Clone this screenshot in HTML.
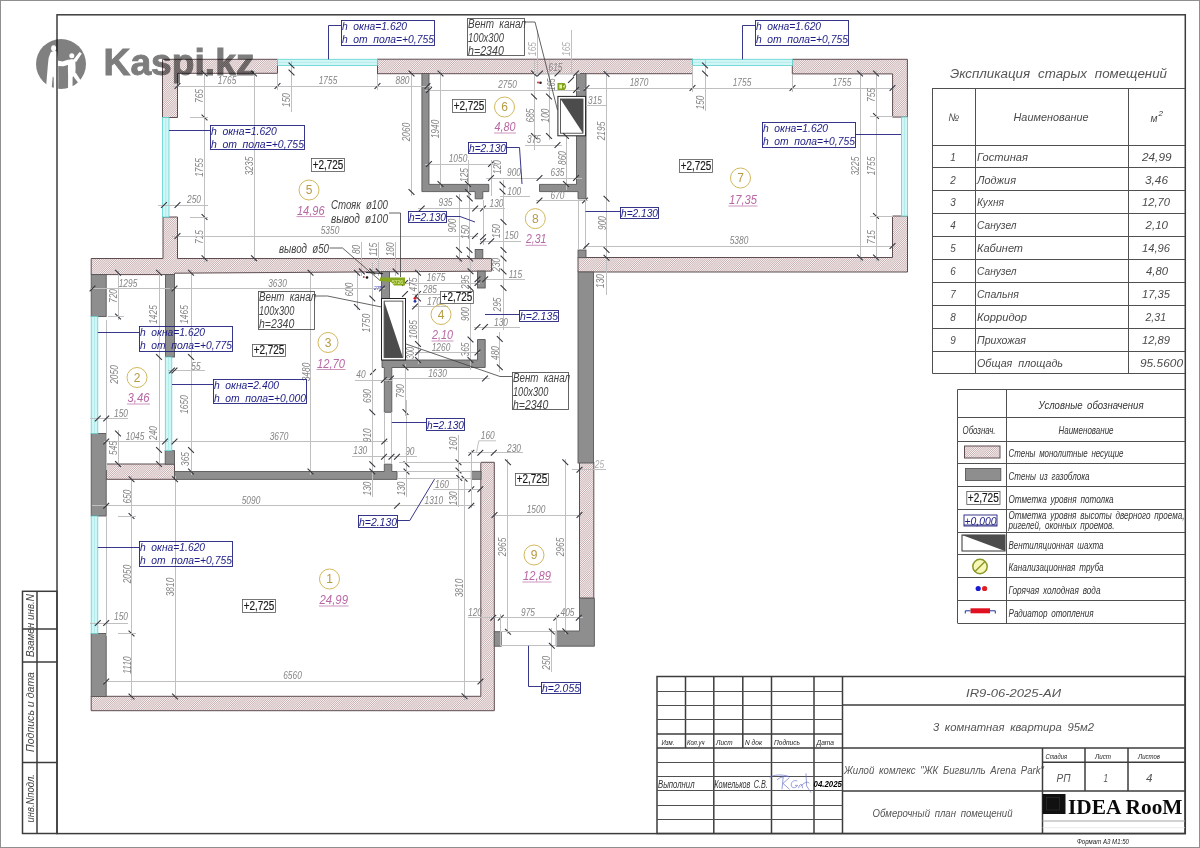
<!DOCTYPE html>
<html lang="ru"><head><meta charset="utf-8"><title>Обмерочный план помещений</title>
<style>
html,body{margin:0;padding:0;background:#fff;}
body{width:1200px;height:848px;overflow:hidden;font-family:'Liberation Sans', sans-serif;}
svg{display:block;position:absolute;left:0;top:0;}
text{font-family:'Liberation Sans', sans-serif;}
.mono{fill:url(#hatch);stroke:#5e4c50;stroke-width:1;}
.gz{fill:#8e8e8e;stroke:#585858;stroke-width:0.9;}
.win{fill:#d2f6f5;stroke:#5ad3d0;stroke-width:0.8;}
.winl{stroke:#9ce6e4;stroke-width:0.6;}
.dl{stroke:#c0c0c0;stroke-width:1;shape-rendering:crispEdges;}
.tk{stroke:#34343e;stroke-width:1.1;}
.dt{font-size:10.2px;font-style:italic;fill:#858585;}
.bb{fill:none;stroke:#20207e;stroke-width:0.9;}
.bl{fill:none;stroke:#20207e;stroke-width:0.9;}
.bt{font-size:11.5px;font-style:italic;fill:#1c1c86;word-spacing:3px;}
.vb{fill:none;stroke:#555;stroke-width:0.9;}
.vl{fill:none;stroke:#3c3c3c;stroke-width:0.8;}
.vt{font-size:12px;font-style:italic;fill:#444;word-spacing:3px;}
.rc{fill:none;stroke:#d0b455;stroke-width:0.95;}
.rn{font-size:12px;fill:#b79a44;}
.ra{font-size:12px;font-style:italic;fill:#b868a4;}
.rau{stroke:#b868a4;stroke-width:0.7;}
.lvb{fill:#fff;stroke:#555;stroke-width:0.8;}
.lvt{font-size:12.5px;fill:#1a1a1a;stroke:#1a1a1a;stroke-width:0.2;}
.fr{fill:none;stroke:#3c3c3c;stroke-width:1.5;}
.frl{stroke:#3c3c3c;stroke-width:1.5;}
.tb{stroke:#505050;stroke-width:1;}
.tbt{stroke:#555;stroke-width:0.8;}
.tt{font-size:11px;font-style:italic;fill:#4a4a4a;word-spacing:3px;}
.tts{font-size:8px;font-style:italic;fill:#333;}
.lab{font-size:10.5px;font-style:italic;fill:#333;word-spacing:2px;}
.ttl{font-size:12.5px;font-style:italic;fill:#555;word-spacing:4px;}
.tts2{font-size:7.5px;font-style:italic;fill:#222;}
.date{font-size:9.5px;font-style:italic;font-weight:bold;fill:#000;}
.big{font-size:11.5px;font-style:italic;fill:#555;word-spacing:2.5px;}
.fmt{font-size:7px;font-style:italic;fill:#222;}
.dt2{font-size:10.2px;font-style:italic;fill:#aeaeae;}
.bt2{font-size:6px;font-style:italic;fill:#3a3ab0;}
.stamp{font-size:10.5px;font-style:italic;fill:#444;}
</style></head>
<body>
<svg width="1200" height="848" viewBox="0 0 1200 848">
<defs>
<pattern id="hatch" width="1.5" height="1.5" patternUnits="userSpaceOnUse" patternTransform="rotate(-45)">
<rect width="1.5" height="1.5" fill="#fcf5f5"/>
<rect width="1.5" height="0.5" fill="#a98a8c"/>
</pattern>
</defs>
<rect x="0" y="0" width="1200" height="848" fill="#fff"/>
<rect x="0.5" y="0.5" width="1199" height="847" fill="none" stroke="#8f8f8f" stroke-width="1"/>
<rect x="57" y="14.8" width="1128.30" height="818.80" class="fr"/>
<rect x="22.5" y="591.3" width="34.50" height="242.20" class="fr"/>
<line x1="37" y1="591" x2="37" y2="833.5" class="frl"/>
<line x1="22.5" y1="662" x2="57" y2="662" class="frl"/>
<line x1="22.5" y1="762.5" x2="57" y2="762.5" class="frl"/>
<line x1="22.5" y1="629" x2="57" y2="629" class="frl"/>
<polygon points="162.5,59.3 277.5,59.3 277.5,73.3 177.5,73.3 177.5,117.5 162.5,117.5" class="mono"/>
<rect x="377.5" y="59.2" width="315.00" height="14.50" class="mono"/>
<polygon points="792.3,59.3 907.4,59.3 907.4,117.1 892.6,117.1 892.6,73.9 792.3,73.9" class="mono"/>
<polygon points="892.5,216 907.5,216 907.5,272 578,272 578,257.5 892.5,257.5" class="mono"/>
<polygon points="163,217 177.5,217 177.5,258.5 491.6,258.6 491.6,271.1 174.5,273.2 174.5,274.6 91.2,274.6 91.2,258.5 163,258.5" class="mono"/>
<rect x="106.2" y="464" width="68.30" height="15.30" class="mono"/>
<polygon points="91.2,696.3 480.8,696.3 480.8,462.3 494.3,462.3 494.3,710.7 91.2,710.7" class="mono"/>
<rect x="579.5" y="462.5" width="14.30" height="135.70" class="mono"/>
<rect x="91.2" y="274.6" width="15.00" height="41.90" class="gz"/>
<rect x="165.5" y="274.6" width="9.00" height="82.40" class="gz"/>
<rect x="91.2" y="433.5" width="15.00" height="82.50" class="gz"/>
<rect x="165.2" y="450.7" width="9.30" height="13.50" class="gz"/>
<polygon points="174.5,471.5 384.3,471.5 384.3,464.2 391.8,464.2 391.8,471.5 397,471.5 397,479.4 174.5,479.4" class="gz"/>
<rect x="91.2" y="633.5" width="15.00" height="63.00" class="gz"/>
<polygon points="421.9,73.5 429,73.5 429,184.4 488.8,184.4 488.8,191.6 482.8,191.6 482.8,198.8 475.2,198.8 475.2,191.6 421.9,191.6" class="gz"/>
<polygon points="576.5,73.5 586,73.5 586,198.8 578,198.8 578,191.6 539.5,191.6 539.5,184.4 576.5,184.4" class="gz"/>
<rect x="475.2" y="249.5" width="7.60" height="9.10" class="gz"/>
<rect x="477.5" y="271.1" width="7.70" height="16.90" class="gz"/>
<rect x="578" y="250" width="8.00" height="7.70" class="gz"/>
<rect x="578" y="272" width="15.50" height="191.00" class="gz"/>
<rect x="381.5" y="271.6" width="8.00" height="26.90" class="gz"/>
<polygon points="382,360 477.5,360 477.5,339.5 485.2,339.5 485.2,367.5 391.8,367.5 391.8,412.3 384.3,412.3 384.3,367.5 382,367.5" class="gz"/>
<rect x="494.3" y="631.7" width="6.90" height="14.50" class="gz"/>
<polygon points="579.5,598.2 594.4,598.2 594.4,646.2 556.2,646.2 556.2,631 579.5,631" class="gz"/>
<rect x="471.3" y="471.3" width="9.70" height="8.00" class="gz"/>
<rect x="277.5" y="59.3" width="100.00" height="6.20" class="win"/>
<line x1="277.5" y1="62.4" x2="377.5" y2="62.4" class="winl"/>
<rect x="692.5" y="59.3" width="100.00" height="6.20" class="win"/>
<line x1="692.5" y1="62.4" x2="792.5" y2="62.4" class="winl"/>
<rect x="162.5" y="117.5" width="6.50" height="99.50" class="win"/>
<line x1="165.75" y1="117.5" x2="165.75" y2="217" class="winl"/>
<rect x="901.5" y="117.1" width="5.90" height="98.90" class="win"/>
<line x1="904.45" y1="117.1" x2="904.45" y2="216" class="winl"/>
<rect x="91.2" y="316.5" width="6.60" height="117.00" class="win"/>
<line x1="94.5" y1="316.5" x2="94.5" y2="433.5" class="winl"/>
<rect x="165.3" y="357" width="6.50" height="93.70" class="win"/>
<line x1="168.55" y1="357" x2="168.55" y2="450.7" class="winl"/>
<rect x="91.2" y="516" width="6.60" height="117.50" class="win"/>
<line x1="94.5" y1="516" x2="94.5" y2="633.5" class="winl"/>
<rect x="557.9" y="96.4" width="27.70" height="39.40" fill="#fff" stroke="#222" stroke-width="1"/>
<rect x="560.5" y="99.0" width="22.50" height="34.20" fill="#fff" stroke="#333" stroke-width="0.8"/>
<polygon points="560.5,99.0 583.0,99.0 583.0,133.20000000000002" fill="#4c4c4c"/>
<rect x="381.5" y="298.5" width="24.00" height="61.50" fill="#fff" stroke="#222" stroke-width="1"/>
<rect x="384.1" y="301.1" width="18.80" height="56.30" fill="#fff" stroke="#333" stroke-width="0.8"/>
<polygon points="384.1,301.1 384.1,357.4 402.9,357.4" fill="#4c4c4c"/>
<line x1="172" y1="86" x2="432" y2="86" class="dl"/>
<line x1="174.6" y1="88.9" x2="180.4" y2="83.1" class="tk"/>
<line x1="274.6" y1="88.9" x2="280.4" y2="83.1" class="tk"/>
<line x1="374.6" y1="88.9" x2="380.4" y2="83.1" class="tk"/>
<line x1="424.6" y1="88.9" x2="430.4" y2="83.1" class="tk"/>
<line x1="277.5" y1="73.5" x2="277.5" y2="90" class="dl"/>
<line x1="377.5" y1="73.5" x2="377.5" y2="90" class="dl"/>
<text class="dt" text-anchor="middle" transform="translate(227,84.39999999999999) scale(0.82,1)">1765</text>
<text class="dt" text-anchor="middle" transform="translate(328,84.39999999999999) scale(0.82,1)">1755</text>
<text class="dt" text-anchor="middle" transform="translate(402.5,84.39999999999999) scale(0.82,1)">880</text>
<line x1="204.5" y1="70" x2="204.5" y2="262" class="dl"/>
<line x1="201.6" y1="70.6" x2="207.4" y2="76.4" class="tk"/>
<line x1="201.6" y1="114.6" x2="207.4" y2="120.4" class="tk"/>
<line x1="201.6" y1="214.1" x2="207.4" y2="219.9" class="tk"/>
<line x1="201.6" y1="255.29999999999998" x2="207.4" y2="261.09999999999997" class="tk"/>
<line x1="190" y1="117.5" x2="208" y2="117.5" class="dl"/>
<line x1="190" y1="217" x2="208" y2="217" class="dl"/>
<text class="dt" text-anchor="middle" transform="translate(202.7,96) rotate(-90) scale(0.82,1)">765</text>
<text class="dt" text-anchor="middle" transform="translate(202.7,167.5) rotate(-90) scale(0.82,1)">1755</text>
<text class="dt" text-anchor="middle" transform="translate(202.7,237) rotate(-90) scale(0.82,1)">715</text>
<line x1="254" y1="70" x2="254" y2="262" class="dl"/>
<line x1="251.1" y1="70.6" x2="256.9" y2="76.4" class="tk"/>
<line x1="251.1" y1="255.29999999999998" x2="256.9" y2="261.09999999999997" class="tk"/>
<text class="dt" text-anchor="middle" transform="translate(252.7,166) rotate(-90) scale(0.82,1)">3235</text>
<line x1="158" y1="205" x2="208" y2="205" class="dl"/>
<line x1="161.1" y1="207.9" x2="166.9" y2="202.1" class="tk"/>
<line x1="174.6" y1="207.9" x2="180.4" y2="202.1" class="tk"/>
<text class="dt" text-anchor="middle" transform="translate(194,202.6) scale(0.82,1)">250</text>
<line x1="291.5" y1="61" x2="291.5" y2="112" class="dl"/>
<line x1="288.6" y1="62.6" x2="294.4" y2="68.4" class="tk"/>
<line x1="288.6" y1="69.6" x2="294.4" y2="75.4" class="tk"/>
<text class="dt" text-anchor="middle" transform="translate(290.2,100) rotate(-90) scale(0.82,1)">150</text>
<line x1="411.5" y1="70" x2="411.5" y2="196" class="dl"/>
<line x1="408.6" y1="70.6" x2="414.4" y2="76.4" class="tk"/>
<line x1="408.6" y1="189.1" x2="414.4" y2="194.9" class="tk"/>
<text class="dt" text-anchor="middle" transform="translate(409.7,132) rotate(-90) scale(0.82,1)">2060</text>
<line x1="172" y1="236" x2="478" y2="236" class="dl"/>
<line x1="174.6" y1="238.9" x2="180.4" y2="233.1" class="tk"/>
<line x1="472.1" y1="238.9" x2="477.9" y2="233.1" class="tk"/>
<text class="dt" text-anchor="middle" transform="translate(330,234.1) scale(0.82,1)">5350</text>
<line x1="361.9" y1="242" x2="361.9" y2="276" class="dl"/>
<line x1="359.0" y1="268.5" x2="364.79999999999995" y2="274.29999999999995" class="tk"/>
<line x1="378.7" y1="242" x2="378.7" y2="276" class="dl"/>
<line x1="375.8" y1="268.5" x2="381.59999999999997" y2="274.29999999999995" class="tk"/>
<line x1="395.6" y1="242" x2="395.6" y2="276" class="dl"/>
<line x1="392.70000000000005" y1="268.5" x2="398.5" y2="274.29999999999995" class="tk"/>
<text class="dt" text-anchor="middle" transform="translate(359.9,249.4) rotate(-90) scale(0.82,1)">80</text>
<text class="dt" text-anchor="middle" transform="translate(376.59999999999997,249.4) rotate(-90) scale(0.82,1)">115</text>
<text class="dt" text-anchor="middle" transform="translate(394.2,249.4) rotate(-90) scale(0.82,1)">180</text>
<line x1="440.5" y1="70" x2="440.5" y2="188" class="dl"/>
<line x1="437.6" y1="70.6" x2="443.4" y2="76.4" class="tk"/>
<line x1="437.6" y1="181.1" x2="443.4" y2="186.9" class="tk"/>
<text class="dt" text-anchor="middle" transform="translate(438.7,129) rotate(-90) scale(0.82,1)">1940</text>
<line x1="425" y1="90" x2="580" y2="90" class="dl"/>
<line x1="426.1" y1="92.9" x2="431.9" y2="87.1" class="tk"/>
<line x1="573.1" y1="92.9" x2="578.9" y2="87.1" class="tk"/>
<text class="dt" text-anchor="middle" transform="translate(507.5,88.1) scale(0.82,1)">2750</text>
<line x1="425" y1="164" x2="495" y2="164" class="dl"/>
<line x1="426.1" y1="166.9" x2="431.9" y2="161.1" class="tk"/>
<line x1="488.1" y1="166.9" x2="493.9" y2="161.1" class="tk"/>
<text class="dt" text-anchor="middle" transform="translate(458,161.6) scale(0.82,1)">1050</text>
<line x1="468" y1="160" x2="468" y2="196" class="dl"/>
<line x1="465.1" y1="181.1" x2="470.9" y2="186.9" class="tk"/>
<line x1="465.1" y1="189.1" x2="470.9" y2="194.9" class="tk"/>
<text class="dt" text-anchor="middle" transform="translate(467.7,175) rotate(-90) scale(0.82,1)">125</text>
<line x1="491" y1="160" x2="491" y2="196" class="dl"/>
<text class="dt" text-anchor="middle" transform="translate(501.2,167) rotate(-90) scale(0.82,1)">120</text>
<line x1="486" y1="178" x2="582" y2="178" class="dl"/>
<line x1="488.1" y1="180.9" x2="493.9" y2="175.1" class="tk"/>
<line x1="536.6" y1="180.9" x2="542.4" y2="175.1" class="tk"/>
<line x1="573.1" y1="180.9" x2="578.9" y2="175.1" class="tk"/>
<text class="dt" text-anchor="middle" transform="translate(514,175.6) scale(0.82,1)">900</text>
<text class="dt" text-anchor="middle" transform="translate(557.5,175.6) scale(0.82,1)">635</text>
<line x1="500" y1="196.7" x2="530" y2="196.7" class="dl"/>
<text class="dt" text-anchor="middle" transform="translate(514.3,194.9) scale(0.82,1)">100</text>
<line x1="534" y1="60" x2="534" y2="150" class="dl"/>
<line x1="531.1" y1="70.6" x2="536.9" y2="76.4" class="tk"/>
<line x1="531.1" y1="93.6" x2="536.9" y2="99.4" class="tk"/>
<line x1="531.1" y1="133.1" x2="536.9" y2="138.9" class="tk"/>
<text class="dt" text-anchor="middle" transform="translate(534.2,115.5) rotate(-90) scale(0.82,1)">685</text>
<line x1="549" y1="60" x2="549" y2="140" class="dl"/>
<line x1="546.1" y1="93.6" x2="551.9" y2="99.4" class="tk"/>
<line x1="546.1" y1="133.1" x2="551.9" y2="138.9" class="tk"/>
<text class="dt" text-anchor="middle" transform="translate(549.2,115.5) rotate(-90) scale(0.82,1)">100</text>
<text class="dt" text-anchor="middle" transform="translate(534,143.1) scale(0.82,1)">375</text>
<line x1="525" y1="145" x2="562" y2="145" class="dl"/>
<line x1="554.6" y1="147.9" x2="560.4" y2="142.1" class="tk"/>
<line x1="566" y1="136" x2="566" y2="190" class="dl"/>
<line x1="563.1" y1="133.1" x2="568.9" y2="138.9" class="tk"/>
<line x1="563.1" y1="181.1" x2="568.9" y2="186.9" class="tk"/>
<text class="dt" text-anchor="middle" transform="translate(566.2,158) rotate(-90) scale(0.82,1)">860</text>
<text class="dt2" text-anchor="middle" transform="translate(535.7,49) rotate(-90) scale(0.82,1)">165</text>
<text class="dt2" text-anchor="middle" transform="translate(569.7,49) rotate(-90) scale(0.82,1)">165</text>
<line x1="537" y1="30" x2="537" y2="74" class="dl"/>
<line x1="571" y1="30" x2="571" y2="74" class="dl"/>
<line x1="534" y1="73.5" x2="580" y2="73.5" class="dl"/>
<line x1="537.1" y1="76.4" x2="542.9" y2="70.6" class="tk"/>
<line x1="554.6" y1="76.4" x2="560.4" y2="70.6" class="tk"/>
<line x1="573.1" y1="76.4" x2="578.9" y2="70.6" class="tk"/>
<line x1="568.1" y1="82.9" x2="573.9" y2="77.1" class="tk"/>
<text class="dt" text-anchor="middle" transform="translate(555.5,71.1) scale(0.82,1)">615</text>
<text class="dt" text-anchor="middle" transform="translate(554.7,84.5) rotate(-90) scale(0.7,1)">165</text>
<text class="dt" text-anchor="middle" transform="translate(595,104.1) scale(0.82,1)">315</text>
<line x1="586" y1="105" x2="606.5" y2="105" class="dl"/>
<line x1="418" y1="208.5" x2="505" y2="208.5" class="dl"/>
<line x1="418.8" y1="211.4" x2="424.59999999999997" y2="205.6" class="tk"/>
<line x1="472.3" y1="211.4" x2="478.09999999999997" y2="205.6" class="tk"/>
<line x1="480.1" y1="211.4" x2="485.9" y2="205.6" class="tk"/>
<text class="dt" text-anchor="middle" transform="translate(445.5,206.4) scale(0.82,1)">935</text>
<text class="dt" text-anchor="middle" transform="translate(496.5,206.9) scale(0.82,1)">130</text>
<line x1="536" y1="200.5" x2="588" y2="200.5" class="dl"/>
<line x1="536.6" y1="203.4" x2="542.4" y2="197.6" class="tk"/>
<line x1="582.1" y1="203.4" x2="587.9" y2="197.6" class="tk"/>
<text class="dt" text-anchor="middle" transform="translate(557.5,199.1) scale(0.82,1)">670</text>
<line x1="606.5" y1="70" x2="606.5" y2="295" class="dl"/>
<line x1="578.4" y1="199" x2="578.4" y2="250" class="dl"/>
<line x1="585.8" y1="199" x2="585.8" y2="250" class="dl"/>
<line x1="603.6" y1="71.1" x2="609.4" y2="76.9" class="tk"/>
<line x1="603.6" y1="195.9" x2="609.4" y2="201.70000000000002" class="tk"/>
<line x1="603.6" y1="247.1" x2="609.4" y2="252.9" class="tk"/>
<line x1="603.6" y1="254.79999999999998" x2="609.4" y2="260.59999999999997" class="tk"/>
<text class="dt" text-anchor="middle" transform="translate(604.7,131) rotate(-90) scale(0.82,1)">2195</text>
<text class="dt" text-anchor="middle" transform="translate(605.7,223) rotate(-90) scale(0.82,1)">900</text>
<line x1="459" y1="194" x2="459" y2="262" class="dl"/>
<line x1="456.1" y1="195.6" x2="461.9" y2="201.4" class="tk"/>
<line x1="456.1" y1="247.1" x2="461.9" y2="252.9" class="tk"/>
<line x1="456.1" y1="255.6" x2="461.9" y2="261.4" class="tk"/>
<text class="dt" text-anchor="middle" transform="translate(456.09999999999997,225.5) rotate(-90) scale(0.82,1)">900</text>
<line x1="469.5" y1="194" x2="469.5" y2="262" class="dl"/>
<line x1="466.90000000000003" y1="195.6" x2="472.7" y2="201.4" class="tk"/>
<line x1="466.6" y1="247.1" x2="472.4" y2="252.9" class="tk"/>
<line x1="467.1" y1="255.6" x2="472.9" y2="261.4" class="tk"/>
<text class="dt" text-anchor="middle" transform="translate(468.59999999999997,232) rotate(-90) scale(0.82,1)">150</text>
<line x1="483" y1="200" x2="483" y2="245" class="dl"/>
<line x1="503.5" y1="180" x2="503.5" y2="330" class="dl"/>
<line x1="499.8" y1="332" x2="499.8" y2="372" class="dl"/>
<line x1="500.6" y1="219.1" x2="506.4" y2="224.9" class="tk"/>
<line x1="500.6" y1="247.1" x2="506.4" y2="252.9" class="tk"/>
<line x1="500.6" y1="255.6" x2="506.4" y2="261.4" class="tk"/>
<line x1="500.6" y1="268.6" x2="506.4" y2="274.4" class="tk"/>
<line x1="500.6" y1="285.1" x2="506.4" y2="290.9" class="tk"/>
<line x1="496.90000000000003" y1="336.1" x2="502.7" y2="341.9" class="tk"/>
<line x1="496.90000000000003" y1="364.40000000000003" x2="502.7" y2="370.2" class="tk"/>
<line x1="384.3" y1="412.3" x2="384.3" y2="464" class="dl"/>
<line x1="391.8" y1="412.3" x2="391.8" y2="464" class="dl"/>
<line x1="499.6" y1="181.6" x2="505.4" y2="187.4" class="tk"/>
<line x1="499.6" y1="188.6" x2="505.4" y2="194.4" class="tk"/>
<text class="dt" text-anchor="middle" transform="translate(500.09999999999997,231) rotate(-90) scale(0.82,1)">150</text>
<line x1="480" y1="241.2" x2="521" y2="241.2" class="dl"/>
<line x1="480.1" y1="240.20000000000002" x2="485.9" y2="234.4" class="tk"/>
<line x1="480.1" y1="244.1" x2="485.9" y2="238.29999999999998" class="tk"/>
<line x1="488.3" y1="244.1" x2="494.09999999999997" y2="238.29999999999998" class="tk"/>
<text class="dt" text-anchor="middle" transform="translate(511.5,239.29999999999998) scale(0.82,1)">150</text>
<text class="dt" text-anchor="middle" transform="translate(500.4,264.7) rotate(-90) scale(0.82,1)">230</text>
<line x1="484" y1="279.3" x2="525" y2="279.3" class="dl"/>
<line x1="482.3" y1="282.2" x2="488.09999999999997" y2="276.40000000000003" class="tk"/>
<line x1="474.6" y1="282.2" x2="480.4" y2="276.40000000000003" class="tk"/>
<text class="dt" text-anchor="middle" transform="translate(515.5,278.0) scale(0.82,1)">115</text>
<line x1="470.5" y1="262" x2="470.5" y2="370" class="dl"/>
<line x1="467.6" y1="268.40000000000003" x2="473.4" y2="274.2" class="tk"/>
<line x1="467.6" y1="285.1" x2="473.4" y2="290.9" class="tk"/>
<line x1="467.6" y1="336.6" x2="473.4" y2="342.4" class="tk"/>
<line x1="467.6" y1="357.1" x2="473.4" y2="362.9" class="tk"/>
<text class="dt" text-anchor="middle" transform="translate(468.7,282) rotate(-90) scale(0.82,1)">295</text>
<text class="dt" text-anchor="middle" transform="translate(501.2,304.5) rotate(-90) scale(0.82,1)">295</text>
<line x1="474" y1="327" x2="520" y2="327" class="dl"/>
<line x1="474.6" y1="329.9" x2="480.4" y2="324.1" class="tk"/>
<line x1="482.1" y1="329.9" x2="487.9" y2="324.1" class="tk"/>
<text class="dt" text-anchor="middle" transform="translate(501,325.6) scale(0.82,1)">130</text>
<text class="dt" text-anchor="middle" transform="translate(468.7,314) rotate(-90) scale(0.82,1)">900</text>
<text class="dt" text-anchor="middle" transform="translate(498.8,353) rotate(-90) scale(0.82,1)">480</text>
<text class="dt" text-anchor="middle" transform="translate(468.7,349.5) rotate(-90) scale(0.82,1)">365</text>
<line x1="405" y1="283" x2="480" y2="283" class="dl"/>
<line x1="402.1" y1="285.9" x2="407.9" y2="280.1" class="tk"/>
<line x1="474.6" y1="285.9" x2="480.4" y2="280.1" class="tk"/>
<text class="dt" text-anchor="middle" transform="translate(436,281.1) scale(0.82,1)">1675</text>
<line x1="412" y1="294" x2="448" y2="294" class="dl"/>
<line x1="402.1" y1="296.9" x2="407.9" y2="291.1" class="tk"/>
<line x1="415.1" y1="296.9" x2="420.9" y2="291.1" class="tk"/>
<text class="dt" text-anchor="middle" transform="translate(430,292.6) scale(0.82,1)">285</text>
<line x1="412" y1="306.5" x2="448" y2="306.5" class="dl"/>
<line x1="412.1" y1="309.4" x2="417.9" y2="303.6" class="tk"/>
<text class="dt" text-anchor="middle" transform="translate(434,305.1) scale(0.82,1)">170</text>
<line x1="418" y1="270" x2="418" y2="364" class="dl"/>
<line x1="415.1" y1="269.90000000000003" x2="420.9" y2="275.7" class="tk"/>
<line x1="415.1" y1="295.6" x2="420.9" y2="301.4" class="tk"/>
<line x1="415.1" y1="341.1" x2="420.9" y2="346.9" class="tk"/>
<line x1="415.1" y1="357.1" x2="420.9" y2="362.9" class="tk"/>
<text class="dt" text-anchor="middle" transform="translate(417.2,284.5) rotate(-90) scale(0.82,1)">475</text>
<text class="dt" text-anchor="middle" transform="translate(417.2,329.5) rotate(-90) scale(0.82,1)">1085</text>
<text class="dt" text-anchor="middle" transform="translate(414.2,353) rotate(-90) scale(0.7,1)">300</text>
<line x1="415" y1="352.5" x2="480" y2="352.5" class="dl"/>
<line x1="415.1" y1="355.4" x2="420.9" y2="349.6" class="tk"/>
<line x1="474.6" y1="355.4" x2="480.4" y2="349.6" class="tk"/>
<text class="dt" text-anchor="middle" transform="translate(441,350.6) scale(0.82,1)">1260</text>
<line x1="385" y1="378.5" x2="490" y2="378.5" class="dl"/>
<line x1="388.1" y1="381.4" x2="393.9" y2="375.6" class="tk"/>
<line x1="482.1" y1="381.4" x2="487.9" y2="375.6" class="tk"/>
<text class="dt" text-anchor="middle" transform="translate(437.5,376.6) scale(0.82,1)">1630</text>
<line x1="355" y1="380" x2="392" y2="380" class="dl"/>
<line x1="370.1" y1="374.9" x2="375.9" y2="369.1" class="tk"/>
<line x1="380.90000000000003" y1="382.9" x2="386.7" y2="377.1" class="tk"/>
<text class="dt" text-anchor="middle" transform="translate(361,378.1) scale(0.82,1)">40</text>
<line x1="372.3" y1="262" x2="372.3" y2="416" class="dl"/>
<line x1="369.40000000000003" y1="268.6" x2="375.2" y2="274.4" class="tk"/>
<line x1="369.40000000000003" y1="295.6" x2="375.2" y2="301.4" class="tk"/>
<line x1="369.40000000000003" y1="409.40000000000003" x2="375.2" y2="415.2" class="tk"/>
<text class="dt" text-anchor="middle" transform="translate(352.7,289.5) rotate(-90) scale(0.82,1)">600</text>
<line x1="357" y1="272" x2="357" y2="310" class="dl"/>
<line x1="354.1" y1="269.90000000000003" x2="359.9" y2="275.7" class="tk"/>
<line x1="354.1" y1="304.1" x2="359.9" y2="309.9" class="tk"/>
<text class="dt" text-anchor="middle" transform="translate(369.7,323) rotate(-90) scale(0.82,1)">1750</text>
<text class="dt" text-anchor="middle" transform="translate(371.2,396) rotate(-90) scale(0.82,1)">690</text>
<line x1="405.5" y1="364" x2="405.5" y2="416" class="dl"/>
<line x1="402.6" y1="364.6" x2="408.4" y2="370.4" class="tk"/>
<line x1="402.6" y1="409.1" x2="408.4" y2="414.9" class="tk"/>
<text class="dt" text-anchor="middle" transform="translate(404.2,391) rotate(-90) scale(0.82,1)">790</text>
<line x1="90" y1="288.5" x2="170" y2="288.5" class="dl"/>
<line x1="89.6" y1="291.4" x2="95.4" y2="285.6" class="tk"/>
<text class="dt" text-anchor="middle" transform="translate(128,286.6) scale(0.82,1)">1295</text>
<text class="dt" text-anchor="middle" transform="translate(277.5,286.6) scale(0.82,1)">3630</text>
<line x1="172" y1="288.5" x2="385" y2="288.5" class="dl"/>
<line x1="171.6" y1="291.4" x2="177.4" y2="285.6" class="tk"/>
<line x1="379.1" y1="291.4" x2="384.9" y2="285.6" class="tk"/>
<line x1="118" y1="270" x2="118" y2="320" class="dl"/>
<line x1="115.1" y1="269.90000000000003" x2="120.9" y2="275.7" class="tk"/>
<line x1="115.1" y1="313.6" x2="120.9" y2="319.4" class="tk"/>
<line x1="108" y1="316.5" x2="124" y2="316.5" class="dl"/>
<text class="dt" text-anchor="middle" transform="translate(116.7,296) rotate(-90) scale(0.82,1)">720</text>
<line x1="159" y1="270" x2="159" y2="470" class="dl"/>
<line x1="156.1" y1="269.90000000000003" x2="161.9" y2="275.7" class="tk"/>
<line x1="156.1" y1="354.1" x2="161.9" y2="359.9" class="tk"/>
<line x1="156.1" y1="447.1" x2="161.9" y2="452.9" class="tk"/>
<line x1="156.1" y1="461.1" x2="161.9" y2="466.9" class="tk"/>
<text class="dt" text-anchor="middle" transform="translate(156.7,314.5) rotate(-90) scale(0.82,1)">1425</text>
<line x1="191" y1="270" x2="191" y2="475" class="dl"/>
<line x1="188.1" y1="269.90000000000003" x2="193.9" y2="275.7" class="tk"/>
<line x1="188.1" y1="354.1" x2="193.9" y2="359.9" class="tk"/>
<line x1="188.1" y1="447.1" x2="193.9" y2="452.9" class="tk"/>
<line x1="188.1" y1="468.6" x2="193.9" y2="474.4" class="tk"/>
<text class="dt" text-anchor="middle" transform="translate(188.2,314.5) rotate(-90) scale(0.82,1)">1465</text>
<line x1="168" y1="370.5" x2="205" y2="370.5" class="dl"/>
<line x1="169.1" y1="373.4" x2="174.9" y2="367.6" class="tk"/>
<line x1="171.6" y1="373.4" x2="177.4" y2="367.6" class="tk"/>
<text class="dt" text-anchor="middle" transform="translate(196,369.6) scale(0.82,1)">55</text>
<line x1="106.2" y1="320" x2="106.2" y2="470" class="dl"/>
<text class="dt" text-anchor="middle" transform="translate(117.7,374.5) rotate(-90) scale(0.82,1)">2050</text>
<text class="dt" text-anchor="middle" transform="translate(188.2,404.5) rotate(-90) scale(0.82,1)">1650</text>
<line x1="90" y1="418.5" x2="128" y2="418.5" class="dl"/>
<line x1="94.89999999999999" y1="421.4" x2="100.7" y2="415.6" class="tk"/>
<line x1="103.3" y1="421.4" x2="109.10000000000001" y2="415.6" class="tk"/>
<text class="dt" text-anchor="middle" transform="translate(121,416.6) scale(0.82,1)">150</text>
<line x1="310.5" y1="270" x2="310.5" y2="475" class="dl"/>
<line x1="307.6" y1="269.90000000000003" x2="313.4" y2="275.7" class="tk"/>
<line x1="307.6" y1="468.6" x2="313.4" y2="474.4" class="tk"/>
<text class="dt" text-anchor="middle" transform="translate(309.7,372) rotate(-90) scale(0.82,1)">3480</text>
<line x1="104" y1="441.5" x2="168" y2="441.5" class="dl"/>
<line x1="103.3" y1="444.4" x2="109.10000000000001" y2="438.6" class="tk"/>
<line x1="162.1" y1="444.4" x2="167.9" y2="438.6" class="tk"/>
<text class="dt" text-anchor="middle" transform="translate(135,439.6) scale(0.82,1)">1045</text>
<text class="dt" text-anchor="middle" transform="translate(156.7,433) rotate(-90) scale(0.82,1)">240</text>
<line x1="118" y1="430" x2="118" y2="468" class="dl"/>
<line x1="115.1" y1="430.6" x2="120.9" y2="436.4" class="tk"/>
<line x1="115.1" y1="461.1" x2="120.9" y2="466.9" class="tk"/>
<text class="dt" text-anchor="middle" transform="translate(116.7,448) rotate(-90) scale(0.82,1)">545</text>
<text class="dt" text-anchor="middle" transform="translate(188.7,459) rotate(-90) scale(0.82,1)">365</text>
<line x1="172" y1="441.5" x2="388" y2="441.5" class="dl"/>
<line x1="171.6" y1="444.4" x2="177.4" y2="438.6" class="tk"/>
<line x1="381.40000000000003" y1="444.4" x2="387.2" y2="438.6" class="tk"/>
<text class="dt" text-anchor="middle" transform="translate(279,439.6) scale(0.82,1)">3670</text>
<text class="dt" text-anchor="middle" transform="translate(370.59999999999997,435.3) rotate(-90) scale(0.82,1)">910</text>
<line x1="352" y1="456.7" x2="416.5" y2="456.7" class="dl"/>
<line x1="381.1" y1="459.59999999999997" x2="386.9" y2="453.8" class="tk"/>
<line x1="388.6" y1="459.59999999999997" x2="394.4" y2="453.8" class="tk"/>
<line x1="394.1" y1="459.59999999999997" x2="399.9" y2="453.8" class="tk"/>
<text class="dt" text-anchor="middle" transform="translate(360.3,453.90000000000003) scale(0.82,1)">130</text>
<text class="dt" text-anchor="middle" transform="translate(409.8,454.6) scale(0.82,1)">90</text>
<line x1="372.3" y1="416" x2="372.3" y2="497" class="dl"/>
<line x1="406" y1="400" x2="406" y2="497" class="dl"/>
<line x1="369.40000000000003" y1="461.3" x2="375.2" y2="467.09999999999997" class="tk"/>
<line x1="369.40000000000003" y1="468.6" x2="375.2" y2="474.4" class="tk"/>
<line x1="403.6" y1="461.3" x2="409.4" y2="467.09999999999997" class="tk"/>
<line x1="403.6" y1="468.6" x2="409.4" y2="474.4" class="tk"/>
<text class="dt" text-anchor="middle" transform="translate(370.59999999999997,488.5) rotate(-90) scale(0.82,1)">130</text>
<text class="dt" text-anchor="middle" transform="translate(405.09999999999997,488.5) rotate(-90) scale(0.82,1)">130</text>
<line x1="458.5" y1="435" x2="458.5" y2="506.5" class="dl"/>
<line x1="455.6" y1="459.40000000000003" x2="461.4" y2="465.2" class="tk"/>
<line x1="455.6" y1="467.6" x2="461.4" y2="473.4" class="tk"/>
<line x1="456.40000000000003" y1="475.1" x2="462.2" y2="480.9" class="tk"/>
<line x1="461.6" y1="475.90000000000003" x2="467.4" y2="481.7" class="tk"/>
<text class="dt" text-anchor="middle" transform="translate(456.9,443.5) rotate(-90) scale(0.82,1)">160</text>
<line x1="398.5" y1="462" x2="481" y2="462" class="dl"/>
<line x1="397" y1="471.3" x2="471.3" y2="471.3" class="dl"/>
<line x1="397" y1="478.8" x2="471.3" y2="478.8" class="dl"/>
<line x1="468.3" y1="452.8" x2="523" y2="452.8" class="dl"/>
<polyline points="496,440.8 478.8,440.8 476.5,452.5" fill="none" stroke="#b2b2b2" stroke-width="0.8"/>
<line x1="468.40000000000003" y1="455.7" x2="474.2" y2="449.90000000000003" class="tk"/>
<line x1="477.40000000000003" y1="455.7" x2="483.2" y2="449.90000000000003" class="tk"/>
<line x1="490.90000000000003" y1="455.7" x2="496.7" y2="449.90000000000003" class="tk"/>
<text class="dt" text-anchor="middle" transform="translate(487.8,439.1) scale(0.82,1)">160</text>
<text class="dt" text-anchor="middle" transform="translate(514,451.6) scale(0.82,1)">230</text>
<line x1="433" y1="489.3" x2="480.3" y2="489.3" class="dl"/>
<text class="dt" text-anchor="middle" transform="translate(442,487.6) scale(0.82,1)">160</text>
<line x1="468.40000000000003" y1="492.2" x2="474.2" y2="486.40000000000003" class="tk"/>
<line x1="477.40000000000003" y1="492.2" x2="483.2" y2="486.40000000000003" class="tk"/>
<line x1="471.3" y1="449.5" x2="471.3" y2="508" class="dl"/>
<text class="dt" text-anchor="middle" transform="translate(456.9,498.3) rotate(-90) scale(0.82,1)">130</text>
<line x1="92" y1="505.8" x2="475" y2="505.8" class="dl"/>
<line x1="103.3" y1="508.7" x2="109.10000000000001" y2="502.90000000000003" class="tk"/>
<line x1="394.1" y1="508.7" x2="399.9" y2="502.90000000000003" class="tk"/>
<line x1="468.40000000000003" y1="508.7" x2="474.2" y2="502.90000000000003" class="tk"/>
<text class="dt" text-anchor="middle" transform="translate(433.8,503.8) scale(0.82,1)">1310</text>
<text class="dt" text-anchor="middle" transform="translate(251,503.6) scale(0.82,1)">5090</text>
<line x1="131.5" y1="476" x2="131.5" y2="700" class="dl"/>
<line x1="128.6" y1="476.40000000000003" x2="134.4" y2="482.2" class="tk"/>
<line x1="128.6" y1="513.1" x2="134.4" y2="518.9" class="tk"/>
<line x1="128.6" y1="630.6" x2="134.4" y2="636.4" class="tk"/>
<line x1="128.6" y1="693.6" x2="134.4" y2="699.4" class="tk"/>
<line x1="118" y1="516" x2="136" y2="516" class="dl"/>
<line x1="118" y1="633.5" x2="136" y2="633.5" class="dl"/>
<text class="dt" text-anchor="middle" transform="translate(130.7,496.5) rotate(-90) scale(0.82,1)">650</text>
<text class="dt" text-anchor="middle" transform="translate(130.7,574) rotate(-90) scale(0.82,1)">2050</text>
<text class="dt" text-anchor="middle" transform="translate(130.7,665) rotate(-90) scale(0.82,1)">1110</text>
<line x1="175" y1="476" x2="175" y2="700" class="dl"/>
<line x1="172.1" y1="476.40000000000003" x2="177.9" y2="482.2" class="tk"/>
<line x1="172.1" y1="693.6" x2="177.9" y2="699.4" class="tk"/>
<text class="dt" text-anchor="middle" transform="translate(173.7,587) rotate(-90) scale(0.82,1)">3810</text>
<line x1="106.2" y1="516" x2="106.2" y2="636" class="dl"/>
<line x1="90" y1="623" x2="128" y2="623" class="dl"/>
<line x1="94.89999999999999" y1="625.9" x2="100.7" y2="620.1" class="tk"/>
<line x1="103.3" y1="625.9" x2="109.10000000000001" y2="620.1" class="tk"/>
<text class="dt" text-anchor="middle" transform="translate(121,620.1) scale(0.82,1)">150</text>
<line x1="104" y1="681.5" x2="484" y2="681.5" class="dl"/>
<line x1="103.3" y1="684.4" x2="109.10000000000001" y2="678.6" class="tk"/>
<line x1="477.6" y1="684.4" x2="483.4" y2="678.6" class="tk"/>
<text class="dt" text-anchor="middle" transform="translate(292.5,679.1) scale(0.82,1)">6560</text>
<line x1="464.5" y1="478" x2="464.5" y2="700" class="dl"/>
<line x1="461.6" y1="693.4" x2="467.4" y2="699.1999999999999" class="tk"/>
<text class="dt" text-anchor="middle" transform="translate(463.2,588) rotate(-90) scale(0.82,1)">3810</text>
<line x1="492" y1="515" x2="582" y2="515" class="dl"/>
<line x1="491.6" y1="517.9" x2="497.4" y2="512.1" class="tk"/>
<line x1="576.6" y1="517.9" x2="582.4" y2="512.1" class="tk"/>
<text class="dt" text-anchor="middle" transform="translate(536,512.6) scale(0.82,1)">1500</text>
<line x1="507.3" y1="459" x2="507.3" y2="634" class="dl"/>
<line x1="505.1" y1="459.40000000000003" x2="510.9" y2="465.2" class="tk"/>
<line x1="505.1" y1="628.8000000000001" x2="510.9" y2="634.6" class="tk"/>
<text class="dt" text-anchor="middle" transform="translate(506.2,547) rotate(-90) scale(0.82,1)">2965</text>
<line x1="565.3" y1="459" x2="565.3" y2="634" class="dl"/>
<line x1="562.4" y1="459.40000000000003" x2="568.1999999999999" y2="465.2" class="tk"/>
<line x1="562.4" y1="628.4" x2="568.1999999999999" y2="634.1999999999999" class="tk"/>
<text class="dt" text-anchor="middle" transform="translate(563.7,547) rotate(-90) scale(0.82,1)">2965</text>
<line x1="467.8" y1="617.8" x2="583" y2="617.8" class="dl"/>
<line x1="490.40000000000003" y1="620.6999999999999" x2="496.2" y2="614.9" class="tk"/>
<line x1="497.90000000000003" y1="620.6999999999999" x2="503.7" y2="614.9" class="tk"/>
<line x1="553.4" y1="620.6999999999999" x2="559.1999999999999" y2="614.9" class="tk"/>
<line x1="575.9" y1="620.6999999999999" x2="581.6999999999999" y2="614.9" class="tk"/>
<text class="dt" text-anchor="middle" transform="translate(475,615.6) scale(0.82,1)">120</text>
<text class="dt" text-anchor="middle" transform="translate(528,615.6) scale(0.82,1)">975</text>
<text class="dt" text-anchor="middle" transform="translate(567.5,615.6) scale(0.82,1)">405</text>
<line x1="500.8" y1="614" x2="500.8" y2="646" class="dl"/>
<line x1="556" y1="614" x2="556" y2="646" class="dl"/>
<line x1="500.8" y1="645.8" x2="556" y2="645.8" class="dl"/>
<line x1="500.8" y1="631.3" x2="556" y2="631.3" class="dl"/>
<line x1="551.8" y1="628" x2="551.8" y2="671.8" class="dl"/>
<line x1="548.9" y1="628.6" x2="554.6999999999999" y2="634.4" class="tk"/>
<line x1="548.9" y1="642.9" x2="554.6999999999999" y2="648.6999999999999" class="tk"/>
<text class="dt" text-anchor="middle" transform="translate(550.4000000000001,662.8) rotate(-90) scale(0.82,1)">250</text>
<line x1="572" y1="469.7" x2="606" y2="469.7" class="dl"/>
<line x1="576.6" y1="472.59999999999997" x2="582.4" y2="466.8" class="tk"/>
<text class="dt2" text-anchor="middle" transform="translate(599.5,467.6) scale(0.82,1)">25</text>
<text class="dt" text-anchor="middle" transform="translate(603.7,281) rotate(-90) scale(0.82,1)">130</text>
<line x1="584" y1="88" x2="895" y2="88" class="dl"/>
<line x1="583.6" y1="90.9" x2="589.4" y2="85.1" class="tk"/>
<line x1="689.6" y1="90.9" x2="695.4" y2="85.1" class="tk"/>
<line x1="789.6" y1="90.9" x2="795.4" y2="85.1" class="tk"/>
<line x1="889.6" y1="90.9" x2="895.4" y2="85.1" class="tk"/>
<line x1="692.5" y1="65" x2="692.5" y2="92" class="dl"/>
<line x1="792.5" y1="73.5" x2="792.5" y2="92" class="dl"/>
<text class="dt" text-anchor="middle" transform="translate(639,86.1) scale(0.82,1)">1870</text>
<text class="dt" text-anchor="middle" transform="translate(742,86.1) scale(0.82,1)">1755</text>
<text class="dt" text-anchor="middle" transform="translate(842,86.1) scale(0.82,1)">1755</text>
<line x1="705" y1="60" x2="705" y2="111" class="dl"/>
<line x1="702.1" y1="62.6" x2="707.9" y2="68.4" class="tk"/>
<line x1="702.1" y1="70.6" x2="707.9" y2="76.4" class="tk"/>
<text class="dt" text-anchor="middle" transform="translate(703.7,102.5) rotate(-90) scale(0.82,1)">150</text>
<line x1="860" y1="70" x2="860" y2="262" class="dl"/>
<line x1="857.1" y1="70.6" x2="862.9" y2="76.4" class="tk"/>
<line x1="857.1" y1="254.6" x2="862.9" y2="260.4" class="tk"/>
<text class="dt" text-anchor="middle" transform="translate(858.7,166) rotate(-90) scale(0.82,1)">3225</text>
<line x1="876" y1="70" x2="876" y2="262" class="dl"/>
<line x1="873.1" y1="70.6" x2="878.9" y2="76.4" class="tk"/>
<line x1="873.1" y1="113.1" x2="878.9" y2="118.9" class="tk"/>
<line x1="873.1" y1="213.1" x2="878.9" y2="218.9" class="tk"/>
<line x1="873.1" y1="254.6" x2="878.9" y2="260.4" class="tk"/>
<line x1="870" y1="116" x2="893" y2="116" class="dl"/>
<line x1="870" y1="216" x2="893" y2="216" class="dl"/>
<text class="dt" text-anchor="middle" transform="translate(874.7,95) rotate(-90) scale(0.82,1)">755</text>
<text class="dt" text-anchor="middle" transform="translate(874.7,166) rotate(-90) scale(0.82,1)">1755</text>
<text class="dt" text-anchor="middle" transform="translate(874.7,237) rotate(-90) scale(0.82,1)">715</text>
<line x1="584" y1="246" x2="895" y2="246" class="dl"/>
<line x1="583.4" y1="248.9" x2="589.1999999999999" y2="243.1" class="tk"/>
<line x1="889.6" y1="248.9" x2="895.4" y2="243.1" class="tk"/>
<text class="dt" text-anchor="middle" transform="translate(739,244.1) scale(0.82,1)">5380</text>
<rect x="341.5" y="20.5" width="93.00" height="25.00" class="bb"/>
<text class="bt" text-anchor="start" transform="translate(342.0,30.0)" textLength="65.1" lengthAdjust="spacingAndGlyphs">h окна=1.620</text>
<text class="bt" text-anchor="start" transform="translate(342.0,43.0)" textLength="92.0" lengthAdjust="spacingAndGlyphs">h от пола=+0,755</text>
<polyline points="341,25.5 328.5,25.5 328.5,59.3" class="bl"/>
<rect x="210.5" y="125.5" width="94.00" height="24.00" class="bb"/>
<text class="bt" text-anchor="start" transform="translate(211.0,135.0)" textLength="65.8" lengthAdjust="spacingAndGlyphs">h окна=1.620</text>
<text class="bt" text-anchor="start" transform="translate(211.0,148.0)" textLength="93.0" lengthAdjust="spacingAndGlyphs">h от пола=+0,755</text>
<polyline points="169,130.5 210,130.5" class="bl"/>
<rect x="755.5" y="20.5" width="93.00" height="25.00" class="bb"/>
<text class="bt" text-anchor="start" transform="translate(756.0,30.0)" textLength="65.1" lengthAdjust="spacingAndGlyphs">h окна=1.620</text>
<text class="bt" text-anchor="start" transform="translate(756.0,43.0)" textLength="92.0" lengthAdjust="spacingAndGlyphs">h от пола=+0,755</text>
<polyline points="755,25.5 742.5,25.5 742.5,59.3" class="bl"/>
<rect x="762.5" y="122.5" width="93.00" height="25.00" class="bb"/>
<text class="bt" text-anchor="start" transform="translate(763.0,132.0)" textLength="65.1" lengthAdjust="spacingAndGlyphs">h окна=1.620</text>
<text class="bt" text-anchor="start" transform="translate(763.0,145.0)" textLength="92.0" lengthAdjust="spacingAndGlyphs">h от пола=+0,755</text>
<polyline points="855,134.5 901,134.5" class="bl"/>
<rect x="139.5" y="326.5" width="93.00" height="25.00" class="bb"/>
<text class="bt" text-anchor="start" transform="translate(140.0,336.0)" textLength="65.1" lengthAdjust="spacingAndGlyphs">h окна=1.620</text>
<text class="bt" text-anchor="start" transform="translate(140.0,349.0)" textLength="92.0" lengthAdjust="spacingAndGlyphs">h от пола=+0,775</text>
<polyline points="97.8,332.5 139,332.5" class="bl"/>
<rect x="213.5" y="379.5" width="93.00" height="24.00" class="bb"/>
<text class="bt" text-anchor="start" transform="translate(214.0,389.0)" textLength="65.1" lengthAdjust="spacingAndGlyphs">h окна=2.400</text>
<text class="bt" text-anchor="start" transform="translate(214.0,402.0)" textLength="92.0" lengthAdjust="spacingAndGlyphs">h от пола=+0,000</text>
<polyline points="172,384.5 213,384.5" class="bl"/>
<rect x="139.5" y="541.5" width="93.00" height="25.00" class="bb"/>
<text class="bt" text-anchor="start" transform="translate(140.0,551.0)" textLength="65.1" lengthAdjust="spacingAndGlyphs">h окна=1.620</text>
<text class="bt" text-anchor="start" transform="translate(140.0,564.0)" textLength="92.0" lengthAdjust="spacingAndGlyphs">h от пола=+0,755</text>
<polyline points="97.8,547.5 139,547.5" class="bl"/>
<rect x="468.5" y="142.5" width="38.00" height="11.00" class="bb"/>
<text class="bt" text-anchor="start" transform="translate(469.0,151.9)" textLength="37.0" lengthAdjust="spacingAndGlyphs">h=2.130</text>
<polyline points="506.5,147.5 519.5,147.5 522,184" class="bl"/>
<rect x="408.5" y="211.5" width="38.00" height="11.00" class="bb"/>
<text class="bt" text-anchor="start" transform="translate(409.0,220.9)" textLength="37.0" lengthAdjust="spacingAndGlyphs">h=2.130</text>
<polyline points="446,216.5 460,216.5 475,222" class="bl"/>
<rect x="519.5" y="310.5" width="39.00" height="11.00" class="bb"/>
<text class="bt" text-anchor="start" transform="translate(520.0,319.9)" textLength="38.0" lengthAdjust="spacingAndGlyphs">h=2.135</text>
<polyline points="485,314.5 519.5,314.5" class="bl"/>
<rect x="426.5" y="418.5" width="38.00" height="12.00" class="bb"/>
<text class="bt" text-anchor="start" transform="translate(427.0,428.9)" textLength="37.0" lengthAdjust="spacingAndGlyphs">h=2.130</text>
<polyline points="391.8,422.5 426.3,422.5" class="bl"/>
<rect x="358.5" y="515.5" width="39.00" height="12.00" class="bb"/>
<text class="bt" text-anchor="start" transform="translate(359.0,525.9)" textLength="38.0" lengthAdjust="spacingAndGlyphs">h=2.130</text>
<polyline points="397.8,520.5 409.8,520.5 434.5,479.2" class="bl"/>
<rect x="541.5" y="682.5" width="39.00" height="11.00" class="bb"/>
<text class="bt" text-anchor="start" transform="translate(542.0,691.9)" textLength="38.0" lengthAdjust="spacingAndGlyphs">h=2.055</text>
<polyline points="528.5,645.8 528.5,686.5 541.3,686.5" class="bl"/>
<rect x="620.5" y="207.5" width="38.00" height="11.00" class="bb"/>
<text class="bt" text-anchor="start" transform="translate(621.0,216.9)" textLength="37.0" lengthAdjust="spacingAndGlyphs">h=2.130</text>
<polyline points="585.5,211.5 620.3,211.5" class="bl"/>
<rect x="467.5" y="18.5" width="57.00" height="37.00" class="vb"/>
<text class="vt" text-anchor="start" transform="translate(468.0,28.3)" textLength="58.0" lengthAdjust="spacingAndGlyphs">Вент канал</text>
<text class="vt" text-anchor="start" transform="translate(468.0,41.5)" textLength="35.9" lengthAdjust="spacingAndGlyphs">100x300</text>
<text class="vt" text-anchor="start" transform="translate(468.0,54.7)" textLength="35.9" lengthAdjust="spacingAndGlyphs">h=2340</text>
<polyline points="524,22 535,22 557.5,110" class="vl"/>
<rect x="258.5" y="291.5" width="56.00" height="38.00" class="vb"/>
<text class="vt" text-anchor="start" transform="translate(259.0,301.3)" textLength="57.0" lengthAdjust="spacingAndGlyphs">Вент канал</text>
<text class="vt" text-anchor="start" transform="translate(259.0,314.5)" textLength="35.3" lengthAdjust="spacingAndGlyphs">100x300</text>
<text class="vt" text-anchor="start" transform="translate(259.0,327.7)" textLength="35.3" lengthAdjust="spacingAndGlyphs">h=2340</text>
<polyline points="314.5,296 327.5,296 381.5,307" class="vl"/>
<rect x="512.5" y="372.5" width="56.00" height="37.00" class="vb"/>
<text class="vt" text-anchor="start" transform="translate(513.0,382.3)" textLength="57.0" lengthAdjust="spacingAndGlyphs">Вент канал</text>
<text class="vt" text-anchor="start" transform="translate(513.0,395.5)" textLength="35.3" lengthAdjust="spacingAndGlyphs">100x300</text>
<text class="vt" text-anchor="start" transform="translate(513.0,408.7)" textLength="35.3" lengthAdjust="spacingAndGlyphs">h=2340</text>
<polyline points="512,376.5 500,376.5 406,344" class="vl"/>
<text class="vt" text-anchor="start" transform="translate(331,209.3)" textLength="57" lengthAdjust="spacingAndGlyphs">Стояк ø100</text>
<text class="vt" text-anchor="start" transform="translate(331,223.2)" textLength="57" lengthAdjust="spacingAndGlyphs">вывод ø100</text>
<text class="vt" text-anchor="start" transform="translate(279,252.5)" textLength="50" lengthAdjust="spacingAndGlyphs">вывод ø50</text>
<polyline points="389,213 400.5,213 400.5,277" class="vl"/>
<polyline points="329.5,248 342.5,248 380,280.5" class="vl"/>
<line x1="366" y1="272.5" x2="383" y2="273.5" stroke="#222" stroke-width="1.2"/>
<circle cx="367" cy="277.5" r="1.3" fill="#111"/>
<circle cx="363.8" cy="277" r="0.9" fill="#c03030"/>
<path d="M380,277.5 L405,277.5 L405,285.5 L394,285.5 L391,282 L380,281 Z" fill="#86a81e"/>
<text x="392" y="284" style="font-size:5px;fill:#eaf5a0">5726</text>
<text class="bt2" text-anchor="start" transform="translate(374,289.5)" textLength="8" lengthAdjust="spacingAndGlyphs">275</text>
<circle cx="415" cy="298.3" r="1.5" fill="#d02030"/>
<circle cx="415" cy="301.3" r="1.4" fill="#2030b0"/>
<circle cx="540.5" cy="82.8" r="1.3" fill="#222"/>
<circle cx="538" cy="82.5" r="1" fill="#d03030"/>
<path d="M557.5,83 L564.5,83 Q568,86.5 564.5,90 L557.5,90 Z" fill="#7fa31c"/>
<path d="M559.3,84.6 L562,84.6 L562,88.4 L559.3,88.4 Z M562.8,86.2 L565.4,84.8 L564.2,88.2 Z" fill="#e4f3a6"/>
<circle cx="309" cy="190" r="10" class="rc"/>
<text class="rn" text-anchor="middle" x="309" y="194.3">5</text>
<text class="ra" text-anchor="start" transform="translate(297,214.6)" textLength="27.5" lengthAdjust="spacingAndGlyphs">14,96</text>
<line x1="296.5" y1="216.6" x2="325.0" y2="216.6" class="rau"/>
<circle cx="504.5" cy="107" r="10" class="rc"/>
<text class="rn" text-anchor="middle" x="504.5" y="111.3">6</text>
<text class="ra" text-anchor="start" transform="translate(494.5,131)" textLength="21.0" lengthAdjust="spacingAndGlyphs">4,80</text>
<line x1="494.0" y1="133" x2="516.0" y2="133" class="rau"/>
<circle cx="740.5" cy="178" r="10" class="rc"/>
<text class="rn" text-anchor="middle" x="740.5" y="182.3">7</text>
<text class="ra" text-anchor="start" transform="translate(729,204)" textLength="28.0" lengthAdjust="spacingAndGlyphs">17,35</text>
<line x1="728.5" y1="206" x2="757.5" y2="206" class="rau"/>
<circle cx="535.3" cy="218.6" r="10" class="rc"/>
<text class="rn" text-anchor="middle" x="535.3" y="222.9">8</text>
<text class="ra" text-anchor="start" transform="translate(526,243.3)" textLength="20.4" lengthAdjust="spacingAndGlyphs">2,31</text>
<line x1="525.5" y1="245.3" x2="546.9" y2="245.3" class="rau"/>
<circle cx="328" cy="342.5" r="10" class="rc"/>
<text class="rn" text-anchor="middle" x="328" y="346.8">3</text>
<text class="ra" text-anchor="start" transform="translate(317,367.5)" textLength="28.0" lengthAdjust="spacingAndGlyphs">12,70</text>
<line x1="316.5" y1="369.5" x2="345.5" y2="369.5" class="rau"/>
<circle cx="441" cy="314.5" r="10" class="rc"/>
<text class="rn" text-anchor="middle" x="441" y="318.8">4</text>
<text class="ra" text-anchor="start" transform="translate(432,339)" textLength="21.0" lengthAdjust="spacingAndGlyphs">2,10</text>
<line x1="431.5" y1="341" x2="453.5" y2="341" class="rau"/>
<circle cx="137" cy="377.5" r="10" class="rc"/>
<text class="rn" text-anchor="middle" x="137" y="381.8">2</text>
<text class="ra" text-anchor="start" transform="translate(127.5,402)" textLength="22.0" lengthAdjust="spacingAndGlyphs">3,46</text>
<line x1="127.0" y1="404" x2="150.0" y2="404" class="rau"/>
<circle cx="329.5" cy="579" r="10" class="rc"/>
<text class="rn" text-anchor="middle" x="329.5" y="583.3">1</text>
<text class="ra" text-anchor="start" transform="translate(319.5,604)" textLength="28.5" lengthAdjust="spacingAndGlyphs">24,99</text>
<line x1="319.0" y1="606" x2="348.5" y2="606" class="rau"/>
<circle cx="534" cy="555" r="10" class="rc"/>
<text class="rn" text-anchor="middle" x="534" y="559.3">9</text>
<text class="ra" text-anchor="start" transform="translate(523,580)" textLength="28.0" lengthAdjust="spacingAndGlyphs">12,89</text>
<line x1="522.5" y1="582" x2="551.5" y2="582" class="rau"/>
<rect x="311.5" y="158.5" width="33.00" height="13.00" class="lvb"/>
<text class="lvt" text-anchor="start" transform="translate(312.7,169.3)" textLength="30.6" lengthAdjust="spacingAndGlyphs">+2,725</text>
<rect x="452.5" y="99.5" width="33.00" height="13.00" class="lvb"/>
<text class="lvt" text-anchor="start" transform="translate(453.7,110.3)" textLength="30.6" lengthAdjust="spacingAndGlyphs">+2,725</text>
<rect x="679.5" y="159.5" width="33.00" height="13.00" class="lvb"/>
<text class="lvt" text-anchor="start" transform="translate(680.7,170.3)" textLength="30.6" lengthAdjust="spacingAndGlyphs">+2,725</text>
<rect x="440.5" y="291.5" width="33.00" height="12.00" class="lvb"/>
<text class="lvt" text-anchor="start" transform="translate(441.7,301.3)" textLength="30.6" lengthAdjust="spacingAndGlyphs">+2,725</text>
<rect x="252.5" y="344.5" width="33.00" height="12.00" class="lvb"/>
<text class="lvt" text-anchor="start" transform="translate(253.7,354.3)" textLength="30.6" lengthAdjust="spacingAndGlyphs">+2,725</text>
<rect x="515.5" y="473.5" width="33.00" height="12.00" class="lvb"/>
<text class="lvt" text-anchor="start" transform="translate(516.7,483.3)" textLength="30.6" lengthAdjust="spacingAndGlyphs">+2,725</text>
<rect x="242.5" y="599.5" width="33.00" height="13.00" class="lvb"/>
<text class="lvt" text-anchor="start" transform="translate(243.7,610.3)" textLength="30.6" lengthAdjust="spacingAndGlyphs">+2,725</text>
<text class="stamp" text-anchor="start" transform="translate(34,657) rotate(-90)" textLength="63" lengthAdjust="spacingAndGlyphs">Взамен инв.N</text>
<text class="stamp" text-anchor="start" transform="translate(34,752) rotate(-90)" textLength="80" lengthAdjust="spacingAndGlyphs">Подпись и дата</text>
<text class="stamp" text-anchor="start" transform="translate(34,822.5) rotate(-90)" textLength="48.5" lengthAdjust="spacingAndGlyphs">инв.Nподл.</text>
<text class="ttl" text-anchor="start" transform="translate(950,78)" textLength="217" lengthAdjust="spacingAndGlyphs">Экспликация старых помещений</text>
<line x1="932.5" y1="88.5" x2="1185" y2="88.5" class="tb"/>
<line x1="932.5" y1="145.5" x2="1185" y2="145.5" class="tb"/>
<line x1="932.5" y1="167.5" x2="1185" y2="167.5" class="tb"/>
<line x1="932.5" y1="190.5" x2="1185" y2="190.5" class="tb"/>
<line x1="932.5" y1="213.5" x2="1185" y2="213.5" class="tb"/>
<line x1="932.5" y1="236.5" x2="1185" y2="236.5" class="tb"/>
<line x1="932.5" y1="259.5" x2="1185" y2="259.5" class="tb"/>
<line x1="932.5" y1="282.5" x2="1185" y2="282.5" class="tb"/>
<line x1="932.5" y1="305.5" x2="1185" y2="305.5" class="tb"/>
<line x1="932.5" y1="328.5" x2="1185" y2="328.5" class="tb"/>
<line x1="932.5" y1="351.5" x2="1185" y2="351.5" class="tb"/>
<line x1="932.5" y1="373.5" x2="1185" y2="373.5" class="tb"/>
<line x1="932.5" y1="88" x2="932.5" y2="373.5" class="tb"/>
<line x1="975.5" y1="88" x2="975.5" y2="373.5" class="tb"/>
<line x1="1128.5" y1="88" x2="1128.5" y2="373.5" class="tb"/>
<text class="tt" text-anchor="middle" transform="translate(953.5,120.5) scale(0.9,1)" >№</text>
<text class="tt" text-anchor="start" transform="translate(1013.5,120.5)" textLength="75" lengthAdjust="spacingAndGlyphs">Наименование</text>
<text class="tt" text-anchor="start" transform="translate(1150.5,121.5)" textLength="7" lengthAdjust="spacingAndGlyphs">м</text>
<text class="tts" text-anchor="start" transform="translate(1158.5,116)" >2</text>
<text class="tt" text-anchor="middle" transform="translate(953,160.8) scale(0.9,1)" >1</text>
<text class="tt" text-anchor="start" transform="translate(977,160.8)" textLength="51" lengthAdjust="spacingAndGlyphs">Гостиная</text>
<text class="tt" text-anchor="start" transform="translate(1142,160.8)" textLength="29.5" lengthAdjust="spacingAndGlyphs">24,99</text>
<text class="tt" text-anchor="middle" transform="translate(953,183.60000000000002) scale(0.9,1)" >2</text>
<text class="tt" text-anchor="start" transform="translate(977,183.60000000000002)" textLength="39" lengthAdjust="spacingAndGlyphs">Лоджия</text>
<text class="tt" text-anchor="start" transform="translate(1145,183.60000000000002)" textLength="23" lengthAdjust="spacingAndGlyphs">3,46</text>
<text class="tt" text-anchor="middle" transform="translate(953,206.4) scale(0.9,1)" >3</text>
<text class="tt" text-anchor="start" transform="translate(977,206.4)" textLength="27" lengthAdjust="spacingAndGlyphs">Кухня</text>
<text class="tt" text-anchor="start" transform="translate(1142,206.4)" textLength="28" lengthAdjust="spacingAndGlyphs">12,70</text>
<text class="tt" text-anchor="middle" transform="translate(953,229.20000000000002) scale(0.9,1)" >4</text>
<text class="tt" text-anchor="start" transform="translate(977,229.20000000000002)" textLength="39.5" lengthAdjust="spacingAndGlyphs">Санузел</text>
<text class="tt" text-anchor="start" transform="translate(1145.5,229.20000000000002)" textLength="22.5" lengthAdjust="spacingAndGlyphs">2,10</text>
<text class="tt" text-anchor="middle" transform="translate(953,252.0) scale(0.9,1)" >5</text>
<text class="tt" text-anchor="start" transform="translate(977,252.0)" textLength="46" lengthAdjust="spacingAndGlyphs">Кабинет</text>
<text class="tt" text-anchor="start" transform="translate(1142,252.0)" textLength="28" lengthAdjust="spacingAndGlyphs">14,96</text>
<text class="tt" text-anchor="middle" transform="translate(953,275.0) scale(0.9,1)" >6</text>
<text class="tt" text-anchor="start" transform="translate(977,275.0)" textLength="39.5" lengthAdjust="spacingAndGlyphs">Санузел</text>
<text class="tt" text-anchor="start" transform="translate(1146,275.0)" textLength="22" lengthAdjust="spacingAndGlyphs">4,80</text>
<text class="tt" text-anchor="middle" transform="translate(953,298.0) scale(0.9,1)" >7</text>
<text class="tt" text-anchor="start" transform="translate(977,298.0)" textLength="42" lengthAdjust="spacingAndGlyphs">Спальня</text>
<text class="tt" text-anchor="start" transform="translate(1142,298.0)" textLength="28" lengthAdjust="spacingAndGlyphs">17,35</text>
<text class="tt" text-anchor="middle" transform="translate(953,321.0) scale(0.9,1)" >8</text>
<text class="tt" text-anchor="start" transform="translate(977,321.0)" textLength="50" lengthAdjust="spacingAndGlyphs">Корридор</text>
<text class="tt" text-anchor="start" transform="translate(1145.5,321.0)" textLength="20.5" lengthAdjust="spacingAndGlyphs">2,31</text>
<text class="tt" text-anchor="middle" transform="translate(953,344.0) scale(0.9,1)" >9</text>
<text class="tt" text-anchor="start" transform="translate(977,344.0)" textLength="49" lengthAdjust="spacingAndGlyphs">Прихожая</text>
<text class="tt" text-anchor="start" transform="translate(1142,344.0)" textLength="28" lengthAdjust="spacingAndGlyphs">12,89</text>
<text class="tt" text-anchor="start" transform="translate(977,366.5)" textLength="86" lengthAdjust="spacingAndGlyphs">Общая площадь</text>
<text class="tt" text-anchor="start" transform="translate(1140,366.5)" textLength="43" lengthAdjust="spacingAndGlyphs">95.5600</text>
<line x1="957.5" y1="389.5" x2="1185" y2="389.5" class="tb"/>
<line x1="957.5" y1="417.5" x2="1185" y2="417.5" class="tb"/>
<line x1="957.5" y1="441.5" x2="1185" y2="441.5" class="tb"/>
<line x1="957.5" y1="463.5" x2="1185" y2="463.5" class="tb"/>
<line x1="957.5" y1="486.5" x2="1185" y2="486.5" class="tb"/>
<line x1="957.5" y1="509.5" x2="1185" y2="509.5" class="tb"/>
<line x1="957.5" y1="532.5" x2="1185" y2="532.5" class="tb"/>
<line x1="957.5" y1="554.5" x2="1185" y2="554.5" class="tb"/>
<line x1="957.5" y1="577.5" x2="1185" y2="577.5" class="tb"/>
<line x1="957.5" y1="600.5" x2="1185" y2="600.5" class="tb"/>
<line x1="957.5" y1="623.5" x2="1185" y2="623.5" class="tb"/>
<line x1="957.5" y1="389.5" x2="957.5" y2="623" class="tb"/>
<line x1="1006.5" y1="389.5" x2="1006.5" y2="623" class="tb"/>
<text class="lab" text-anchor="start" transform="translate(1038.5,408.5)" textLength="105" lengthAdjust="spacingAndGlyphs">Условные обозначения</text>
<text class="lab" text-anchor="start" transform="translate(962.5,433.5)" textLength="33" lengthAdjust="spacingAndGlyphs">Обознач.</text>
<text class="lab" text-anchor="start" transform="translate(1058.5,433.5)" textLength="55" lengthAdjust="spacingAndGlyphs">Наименование</text>
<text class="lab" text-anchor="start" transform="translate(1008.5,457)" textLength="115" lengthAdjust="spacingAndGlyphs">Стены монолитные несущие</text>
<text class="lab" text-anchor="start" transform="translate(1008.5,479.5)" textLength="81" lengthAdjust="spacingAndGlyphs">Стены из газоблока</text>
<text class="lab" text-anchor="start" transform="translate(1008.5,502.5)" textLength="105" lengthAdjust="spacingAndGlyphs">Отметка уровня потолка</text>
<text class="lab" text-anchor="start" transform="translate(1008.5,548.5)" textLength="95" lengthAdjust="spacingAndGlyphs">Вентиляционная шахта</text>
<text class="lab" text-anchor="start" transform="translate(1008.5,571)" textLength="95" lengthAdjust="spacingAndGlyphs">Канализационная труба</text>
<text class="lab" text-anchor="start" transform="translate(1008.5,594)" textLength="92" lengthAdjust="spacingAndGlyphs">Горячая холодная вода</text>
<text class="lab" text-anchor="start" transform="translate(1008.5,616.5)" textLength="85" lengthAdjust="spacingAndGlyphs">Радиатор отопления</text>
<text class="lab" text-anchor="start" transform="translate(1008.5,518.8)" textLength="176" lengthAdjust="spacingAndGlyphs">Отметка уровня высоты дверного проема,</text>
<text class="lab" text-anchor="start" transform="translate(1008.5,529.3)" textLength="106" lengthAdjust="spacingAndGlyphs">ригелей, оконных проемов.</text>
<rect x="964.5" y="446" width="35.50" height="12.00" class="mono"/>
<rect x="965.5" y="468.5" width="35.30" height="12.00" class="gz"/>
<rect x="966.8" y="491.5" width="33.20" height="13.00" class="lvb"/>
<text class="lvt" text-anchor="start" transform="translate(967.8,502)" textLength="31" lengthAdjust="spacingAndGlyphs">+2,725</text>
<rect x="964" y="515" width="33.00" height="11.00" class="bb"/>
<text class="bt" text-anchor="start" transform="translate(964.5,524.6)" textLength="32" lengthAdjust="spacingAndGlyphs">+0,000</text>
<line x1="964" y1="525" x2="997" y2="525" class="bl"/>
<rect x="962" y="535" width="43" height="16" fill="#fff" stroke="#333" stroke-width="1"/>
<polygon points="962,535 1005,535 1005,551" fill="#4c4c4c"/>
<circle cx="980" cy="566.5" r="7.2" fill="#f7f7b8" stroke="#8a9826" stroke-width="1.5"/>
<line x1="975" y1="571.5" x2="985" y2="561.5" stroke="#8a9826" stroke-width="1.5"/>
<circle cx="978.2" cy="588.5" r="2.6" fill="#1a1ad0"/>
<circle cx="984.6" cy="588.5" r="2.6" fill="#e02020"/>
<rect x="970.5" y="608.3" width="19.5" height="5" fill="#e01020"/>
<polyline points="965.3,613.5 965.3,610.8 970.5,610.8" fill="none" stroke="#2030a0" stroke-width="1"/>
<polyline points="990,610.8 995.3,610.8 995.3,613.5" fill="none" stroke="#2030a0" stroke-width="1"/>
<rect x="657" y="676.5" width="528.00" height="157.00" class="fr"/>
<line x1="685.5" y1="676.5" x2="685.5" y2="748" class="frl"/>
<line x1="713.8" y1="676.5" x2="713.8" y2="833.5" class="frl"/>
<line x1="742.8" y1="676.5" x2="742.8" y2="748" class="frl"/>
<line x1="771.5" y1="676.5" x2="771.5" y2="833.5" class="frl"/>
<line x1="814" y1="676.5" x2="814" y2="833.5" class="frl"/>
<line x1="842.5" y1="676.5" x2="842.5" y2="833.5" class="frl"/>
<line x1="657" y1="691.5" x2="842.5" y2="691.5" class="tb"/>
<line x1="657" y1="705.5" x2="842.5" y2="705.5" class="tb"/>
<line x1="657" y1="719.5" x2="842.5" y2="719.5" class="tb"/>
<line x1="657" y1="734" x2="842.5" y2="734" class="frl"/>
<line x1="657" y1="748" x2="842.5" y2="748" class="frl"/>
<line x1="657" y1="762.5" x2="842.5" y2="762.5" class="tb"/>
<line x1="657" y1="776.5" x2="842.5" y2="776.5" class="tb"/>
<line x1="657" y1="790.5" x2="842.5" y2="790.5" class="tb"/>
<line x1="657" y1="805.5" x2="842.5" y2="805.5" class="tb"/>
<line x1="657" y1="819.5" x2="842.5" y2="819.5" class="tb"/>
<line x1="842.5" y1="705" x2="1185" y2="705" class="frl"/>
<line x1="842.5" y1="748" x2="1185" y2="748" class="frl"/>
<line x1="842.5" y1="791" x2="1185" y2="791" class="frl"/>
<line x1="1042.5" y1="748" x2="1042.5" y2="833.5" class="frl"/>
<line x1="1085" y1="748" x2="1085" y2="791" class="frl"/>
<line x1="1128" y1="748" x2="1128" y2="791" class="frl"/>
<line x1="1042.5" y1="762.2" x2="1185" y2="762.2" class="frl"/>
<line x1="1042.5" y1="821" x2="1185" y2="821" stroke="#a5a5a5" stroke-width="1.1"/>
<line x1="1042.5" y1="827.7" x2="1185" y2="827.7" stroke="#e4e4e4" stroke-width="0.7"/>
<text class="tts2" text-anchor="start" transform="translate(661.5,745.3)" textLength="13" lengthAdjust="spacingAndGlyphs">Изм.</text>
<text class="tts2" text-anchor="start" transform="translate(687,745.3)" textLength="17.5" lengthAdjust="spacingAndGlyphs">Кол.уч</text>
<text class="tts2" text-anchor="start" transform="translate(716,745.3)" textLength="16.5" lengthAdjust="spacingAndGlyphs">Лист</text>
<text class="tts2" text-anchor="start" transform="translate(745,745.3)" textLength="17" lengthAdjust="spacingAndGlyphs">N док</text>
<text class="tts2" text-anchor="start" transform="translate(774,745.3)" textLength="26" lengthAdjust="spacingAndGlyphs">Подпись</text>
<text class="tts2" text-anchor="start" transform="translate(816.5,745.3)" textLength="17.5" lengthAdjust="spacingAndGlyphs">Дата</text>
<text class="lab" text-anchor="start" transform="translate(658,787.6)" textLength="36.5" lengthAdjust="spacingAndGlyphs">Выполнил</text>
<text class="lab" text-anchor="start" transform="translate(714.3,787.6)" textLength="53.5" lengthAdjust="spacingAndGlyphs">Комельков С.В.</text>
<text class="date" text-anchor="start" transform="translate(813.5,787)" textLength="28.5" lengthAdjust="spacingAndGlyphs">04.2025</text>
<path d="M769.5,777.2 C774,774.6 782,774.2 788.5,776.4 C784,776 779.5,777.4 777,779.8 M783.2,776.8 L782,789.2 M789.4,777.6 L783,783.4 L789.6,789.4 M797.2,781 C793.4,779.4 790.4,782.8 791.4,786 C792.4,788.6 796,788 797.6,785.4 L795,785.4 M798.6,788.2 C799,785 801,783.4 802,785 L802.6,788.2 M806,773.4 L806.6,786 L811,792.6 M800.6,786.4 C803.6,783 807,781 809.4,783.2" fill="none" stroke="#6a72c8" stroke-width="0.7"/>
<text class="big" text-anchor="start" transform="translate(966,696.5)" textLength="95" lengthAdjust="spacingAndGlyphs">IR9-06-2025-АИ</text>
<text class="big" text-anchor="start" transform="translate(933,730.5)" textLength="161" lengthAdjust="spacingAndGlyphs">3 комнатная квартира 95м2</text>
<text class="big" text-anchor="start" transform="translate(844,774)" textLength="200" lengthAdjust="spacingAndGlyphs">Жилой комлекс &quot;ЖК Бигвилль Arena Park&quot;</text>
<text class="big" text-anchor="start" transform="translate(872.5,817)" textLength="140" lengthAdjust="spacingAndGlyphs">Обмерочный план помещений</text>
<text class="tts2" text-anchor="start" transform="translate(1045.5,759)" textLength="21.5" lengthAdjust="spacingAndGlyphs">Стадия</text>
<text class="tts2" text-anchor="start" transform="translate(1095,759)" textLength="16" lengthAdjust="spacingAndGlyphs">Лист</text>
<text class="tts2" text-anchor="start" transform="translate(1138,759)" textLength="22" lengthAdjust="spacingAndGlyphs">Листов</text>
<text class="big" text-anchor="start" transform="translate(1056.5,781.5)" textLength="14" lengthAdjust="spacingAndGlyphs">РП</text>
<text class="big" text-anchor="start" transform="translate(1103.5,781.5)" textLength="4.5" lengthAdjust="spacingAndGlyphs">1</text>
<text class="big" text-anchor="start" transform="translate(1146,781.5)" textLength="6.5" lengthAdjust="spacingAndGlyphs">4</text>
<rect x="1042.5" y="794" width="23" height="20" fill="#111"/>
<rect x="1046.5" y="797.5" width="13" height="12.5" fill="none" stroke="#3a3a3a" stroke-width="0.5"/>
<text x="1068" y="814.2" textLength="114.5" lengthAdjust="spacingAndGlyphs" style="font-family:'Liberation Serif',serif;font-weight:bold;font-size:21.5px;fill:#0a0a0a">IDEA RooM</text>
<text class="fmt" text-anchor="start" transform="translate(1077,844.2)" textLength="52" lengthAdjust="spacingAndGlyphs">Формат А3 М1:50</text>
<mask id="km" maskUnits="userSpaceOnUse" x="30" y="35" width="65" height="60">
<rect x="30" y="35" width="65" height="60" fill="#fff"/>
<g fill="#000">
<ellipse cx="53.6" cy="48.2" rx="2.5" ry="3"/>
<path d="M50.6,52.6 C52,51 55.6,50.6 57,51.6 L57.8,58 L58.2,66 L58.3,78 L58.2,89 L53.9,89 L53.7,77.5 L52.7,76.5 L51.6,89 L46.2,86 L46.8,78 L47.8,66 L48.6,58 Z"/>
<path d="M57.5,60.6 L62.5,61.6 L68.6,59.6 L69.2,64.4 L63.5,66.3 L57.5,66 Z"/>
<circle cx="71.8" cy="55.7" r="2.5"/>
<path d="M68.2,60.2 C70,59 73.6,58.8 75.2,59.8 L75.6,68 L75.2,75.5 L72.6,77 L72.5,92 L68,92 L68.1,76 L67.9,68 Z"/>
<path d="M73.6,59.6 L79.6,52 L81.8,53.6 L76,62.2 Z"/>
<path d="M72.6,74.5 L75.8,72.8 L80.8,80.4 L78,82.6 L74.2,77.6 Z"/>
</g></mask>
<g style="mix-blend-mode:multiply">
<circle cx="61" cy="64" r="25" fill="#808080" mask="url(#km)"/>
<text x="103.5" y="75.3" textLength="151" lengthAdjust="spacingAndGlyphs" style="font-weight:bold;font-size:36.5px;fill:#7d7d7d;stroke:#7d7d7d;stroke-width:0.9">Kaspi.kz</text>
</g>
</svg>
</body></html>
